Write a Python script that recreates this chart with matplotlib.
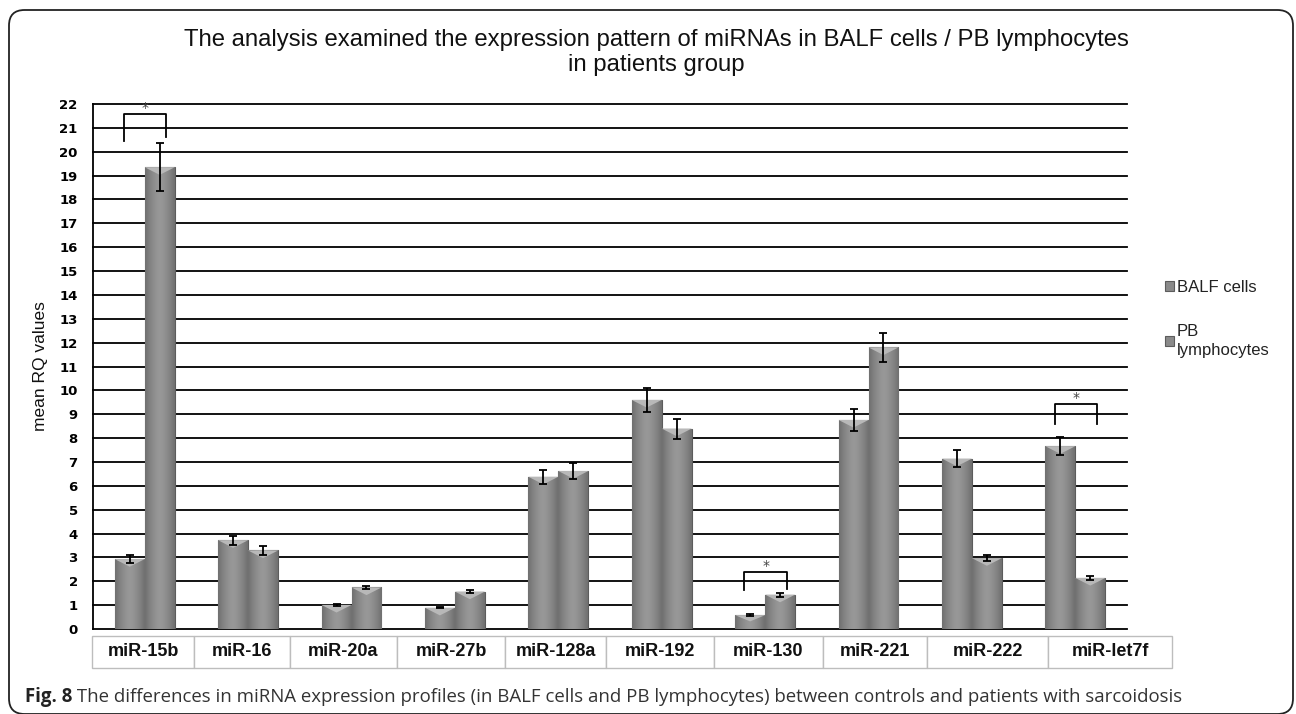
import numpy as np
import matplotlib
matplotlib.use('Agg')
import matplotlib.pyplot as plt
from matplotlib.patches import Rectangle, FancyBboxPatch, Polygon
from matplotlib.colors import LinearSegmentedColormap
import matplotlib.transforms as mtransforms

# ---------------- data ----------------
categories = ['miR-15b', 'miR-16', 'miR-20a', 'miR-27b', 'miR-128a',
              'miR-192', 'miR-130', 'miR-221', 'miR-222', 'miR-let7f']
balf = [2.93, 3.72, 1.01, 0.89, 6.38, 9.60, 0.58, 8.76, 7.14, 7.66]
balf_err = [0.16, 0.19, 0.04, 0.02, 0.29, 0.50, 0.03, 0.47, 0.35, 0.38]
pb = [19.35, 3.29, 1.74, 1.57, 6.62, 8.40, 1.44, 11.80, 2.97, 2.14]
pb_err = [1.00, 0.17, 0.08, 0.08, 0.35, 0.42, 0.08, 0.62, 0.14, 0.10]
series_labels = ['BALF cells', 'PB\nlymphocytes']
yticks = list(range(0, 23))

# significance brackets
sig_groups = [0, 6, 9]
sig_left = [20.45, 1.63, 8.61]
sig_right = [20.60, 1.69, 8.61]
sig_top = [21.58, 2.39, 9.43]

title_lines = ['The analysis examined the expression pattern of miRNAs in BALF cells / PB lymphocytes',
               'in patients group']
ylabel = 'mean RQ values'
caption_bold = 'Fig. 8'
caption_rest = ' The differences in miRNA expression profiles (in BALF cells and PB lymphocytes) between controls and patients with sarcoidosis'

# ---------------- layout ----------------
W, H = 1296, 714
fig = plt.figure(figsize=(W / 100, H / 100), dpi=100)
fig.patch.set_facecolor('white')

ax_left, ax_right, ax_top, ax_bot = 93, 1127, 104, 629
ax = fig.add_axes([ax_left / W, 1 - ax_bot / H, (ax_right - ax_left) / W, (ax_bot - ax_top) / H])

x = np.arange(len(categories))
w = 0.29
bar_kw = dict(color='#8a8a8a', edgecolor='#5c5c5c', linewidth=0.8, zorder=3)
b1 = ax.bar(x - w / 2, balf, w, **bar_kw)
b2 = ax.bar(x + w / 2, pb, w, **bar_kw)

# shading gradient on bars
cmap = LinearSegmentedColormap.from_list('g', ['#989898', '#707070'])
grad = np.abs(np.linspace(-1, 1, 64))[None, :] ** 1.5
for cont in (b1, b2):
    for p in cont.patches:
        x0, w0, h0 = p.get_x(), p.get_width(), p.get_height()
        im = ax.imshow(grad, extent=[x0, x0 + w0, 0, h0], aspect='auto', cmap=cmap,
                       vmin=0, vmax=1, zorder=3.2, interpolation='bilinear')
        im.set_clip_path(p)
        d = min(0.32, h0 * 0.45)
        ax.add_patch(Polygon([(x0, h0), (x0 + w0, h0), (x0 + w0 / 2, h0 - d)],
                             closed=True, fc='#b8b8b8', ec='none', zorder=3.4))

err_kw = dict(fmt='none', ecolor='black', elinewidth=1.3, capsize=3, capthick=1.3, zorder=5)
ax.errorbar(x - w / 2, balf, yerr=balf_err, **err_kw)
ax.errorbar(x + w / 2, pb, yerr=pb_err, **err_kw)

# horizontal gridlines
for yv in yticks:
    ax.axhline(yv, color='black', lw=1.3, zorder=1, clip_on=False)

ax.set_xlim(-0.5, len(categories) - 0.5)
ax.set_ylim(0, 22)
ax.set_yticks(yticks)
ax.set_yticklabels([str(v) for v in yticks], fontfamily='DejaVu Sans',
                   fontweight='bold', fontsize=9.5)
ax.tick_params(axis='y', length=0, pad=11)
ax.set_xticks([])
for s in ['top', 'right', 'bottom']:
    ax.spines[s].set_visible(False)
ax.spines['left'].set_linewidth(1.3)
ax.spines['left'].set_color('black')

# significance brackets
for g, yl, yr, yt in zip(sig_groups, sig_left, sig_right, sig_top):
    xl, xr = g - 0.2, g + 0.21
    ax.plot([xl, xl, xr, xr], [yl, yt, yt, yr], color='black', lw=1.3, zorder=6, clip_on=False)
    ax.text((xl + xr) / 2, yt - 0.05, '*', ha='center', va='bottom', fontsize=10,
            color='#444444', zorder=6)

# category label cells (table-like)
cell_edges = [-0.51, 0.477, 1.405, 2.44, 3.485, 4.46, 5.505, 6.56, 7.566, 8.736, 9.935]
trans = mtransforms.blended_transform_factory(ax.transData, ax.transAxes)
cell_y0, cell_h = -0.074, 0.061
for i, lab in enumerate(categories):
    e0, e1 = cell_edges[i], cell_edges[i + 1]
    ax.add_patch(Rectangle((e0, cell_y0), e1 - e0, cell_h, transform=trans, clip_on=False,
                           fc='white', ec='#bdbdbd', lw=1.0, zorder=2))
    ax.text((e0 + e1) / 2, cell_y0 + cell_h / 2, lab, transform=trans, ha='center', va='center',
            fontfamily='Liberation Sans', fontweight='bold', fontsize=13, color='#111111')

# legend
leg = fig.legend([b1, b2], series_labels, loc='upper left',
                 bbox_to_anchor=(1165 / W, 1 - 280 / H), frameon=False,
                 prop={'family': 'Liberation Sans', 'size': 12},
                 handlelength=0.55, handleheight=0.55, handletextpad=0.15,
                 labelspacing=1.75, borderpad=0, borderaxespad=0)
for t in leg.get_texts():
    t.set_color('#222222')
    t.set_linespacing(1.35)

# y label
fig.text(40 / W, 1 - (ax_top + ax_bot) / 2 / H, ylabel, rotation=90, ha='center', va='center',
         fontfamily='Liberation Sans', fontsize=12.5, color='#111111')

renderer = fig.canvas.get_renderer()

# title (fit to measured width)
t1 = fig.text(656 / W, 1 - 40 / H, title_lines[0], ha='center', va='center',
              fontfamily='Liberation Sans', fontsize=17, color='#111111')
bb = t1.get_window_extent(renderer)
fs_title = 17 * 946 / bb.width
t1.set_fontsize(fs_title)
fig.text(656 / W, 1 - 65 / H, title_lines[1], ha='center', va='center',
         fontfamily='Liberation Sans', fontsize=fs_title, color='#111111')

# caption
cap_y = 1 - 697 / H
c1 = fig.text(25 / W, cap_y, caption_bold, ha='left', va='center',
              fontfamily='Open Sans', fontweight='bold', fontsize=12, color='#222222')
c2 = fig.text(0, cap_y, caption_rest, ha='left', va='center',
              fontfamily='Open Sans', fontsize=12, color='#333333')
bb1 = c1.get_window_extent(renderer)
bb2 = c2.get_window_extent(renderer)
scale = (1180 - 25) / (bb1.width + bb2.width)
c1.set_fontsize(12 * scale)
c2.set_fontsize(12 * scale)
bb1 = c1.get_window_extent(renderer)
c2.set_x(bb1.x1 / W)

# figure frame (rounded)
frame = FancyBboxPatch((9 / W, 0.0), (1293 - 9) / W, (714 - 10) / H - 0.0,
                       boxstyle='round,pad=0,rounding_size=0.012',
                       transform=fig.transFigure, fc='none', ec='#222222', lw=1.3,
                       mutation_aspect=W / H, clip_on=False)
fig.add_artist(frame)

fig.savefig('out.png', dpi=100, facecolor='white')
